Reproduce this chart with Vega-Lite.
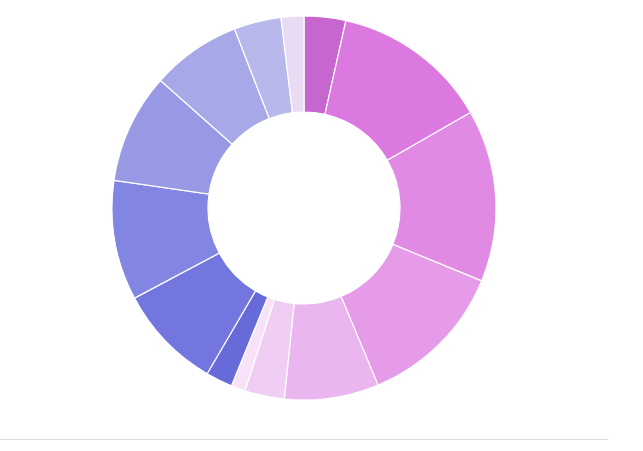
{
  "$schema": "https://vega.github.io/schema/vega-lite/v6.json",
  "width": 608,
  "height": 416,
  "autosize": {"type": "none"},
  "padding": {"left": 0, "top": 0, "right": 35, "bottom": 35},
  "background": "#ffffff",
  "config": {"view": {"stroke": null}},
  "data": {
    "values": [
      {"cat": "A", "idx": 1, "value": 12.6},
      {"cat": "B", "idx": 2, "value": 47.6},
      {"cat": "C", "idx": 3, "value": 52.1},
      {"cat": "D", "idx": 4, "value": 45.0},
      {"cat": "E", "idx": 5, "value": 28.6},
      {"cat": "F", "idx": 6, "value": 12.0},
      {"cat": "G", "idx": 7, "value": 4.3},
      {"cat": "H", "idx": 8, "value": 8.1},
      {"cat": "I", "idx": 9, "value": 31.7},
      {"cat": "J", "idx": 10, "value": 36.3},
      {"cat": "K", "idx": 11, "value": 33.3},
      {"cat": "L", "idx": 12, "value": 27.2},
      {"cat": "M", "idx": 13, "value": 14.3},
      {"cat": "N", "idx": 14, "value": 6.9}
    ]
  },
  "layer": [
    {
      "mark": {"type": "arc", "outerRadius": 192, "innerRadius": 96, "stroke": "#ffffff", "strokeWidth": 1.2},
      "encoding": {
        "theta": {"field": "value", "type": "quantitative", "stack": true},
        "order": {"field": "idx", "type": "quantitative"},
        "color": {
          "field": "cat",
          "type": "nominal",
          "legend": null,
          "scale": {
            "domain": ["A","B","C","D","E","F","G","H","I","J","K","L","M","N"],
            "range": ["#c866cf","#dc79e0","#e08ae4","#e69be8","#ebb5ef","#f0cdf3","#f8e2f8","#676bd9","#7376de","#8285e1","#9799e5","#a6a8e8","#b8b8ec","#e8dbf3"]
          }
        }
      }
    },
    {
      "mark": {"type": "rule", "opacity": 0},
      "encoding": {
        "x": {
          "field": "value",
          "type": "quantitative",
          "axis": {"offset": 23, "domain": true, "domainColor": "#dddddd", "domainWidth": 1, "labels": false, "ticks": false, "grid": false, "title": null}
        }
      }
    }
  ]
}
